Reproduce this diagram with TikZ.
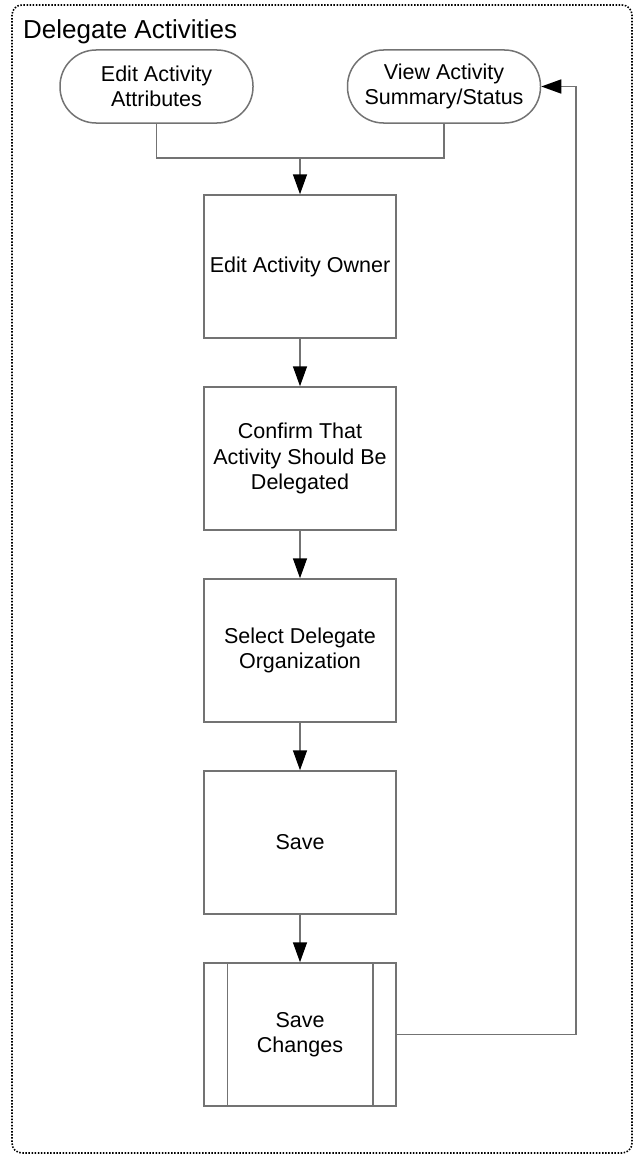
\documentclass[tikz,border=0pt]{standalone}
\usepackage{fontspec}
\setmainfont{Liberation Sans}
\usetikzlibrary{arrows.meta}
\begin{document}
\begin{tikzpicture}[x=1pt,y=-1pt,
  line/.style={draw=black!55, line width=1.5pt},
  arr/.style={line, -{Triangle[length=20pt,width=14pt,color=black]}},
  txt/.style={font=\fontsize{21.5}{25.5}\selectfont, align=center},
  term/.style={line, txt, rounded corners=36pt, minimum width=193pt, minimum height=73pt, inner sep=0pt},
  proc/.style={line, txt, minimum width=192pt, minimum height=143pt, inner sep=0pt},
  frame/.style={draw=black, line width=1.6pt, dash pattern=on 1.5pt off 1.6pt, rounded corners=10pt}
]
\useasboundingbox (0,0) rectangle (634,1156);
\draw[frame] (12,5) rectangle (632,1153);
\node[anchor=base west, font=\fontsize{26}{30}\selectfont, inner sep=0pt] (title) at (23,39) {Delegate Activities};

\node[term] (T1) at (156.5,86.5) {Edit Activity\\Attributes};
\node[term] (T2) at (444,86.5) {View Activity\\Summary/Status};

\node[proc] (B1) at (300,266.5) {Edit Activity Owner};
\node[proc] (B2) at (300,458.5) {Confirm That\\Activity Should Be\\Delegated};
\node[proc] (B3) at (300,650.5) {Select Delegate\\Organization};
\node[proc] (B4) at (300,842.5) {Save};
\node[proc] (B5) at (300,1034.5) {Save\\Changes};
\draw[line] ([xshift=24pt]B5.north west) -- ([xshift=24pt]B5.south west);
\draw[line] ([xshift=-24pt]B5.north east) -- ([xshift=-24pt]B5.south east);

\coordinate (J) at (300,158);
\draw[line] (T1.south) |- (J);
\draw[line] (T2.south) |- (J);
\draw[arr] (J) -- (B1.north);
\draw[arr] (B1.south) -- (B2.north);
\draw[arr] (B2.south) -- (B3.north);
\draw[arr] (B3.south) -- (B4.north);
\draw[arr] (B4.south) -- (B5.north);
\coordinate (R) at (576,1034.5);
\draw[arr] (B5.east) -- (R) |- (T2.east);
\end{tikzpicture}
\end{document}
